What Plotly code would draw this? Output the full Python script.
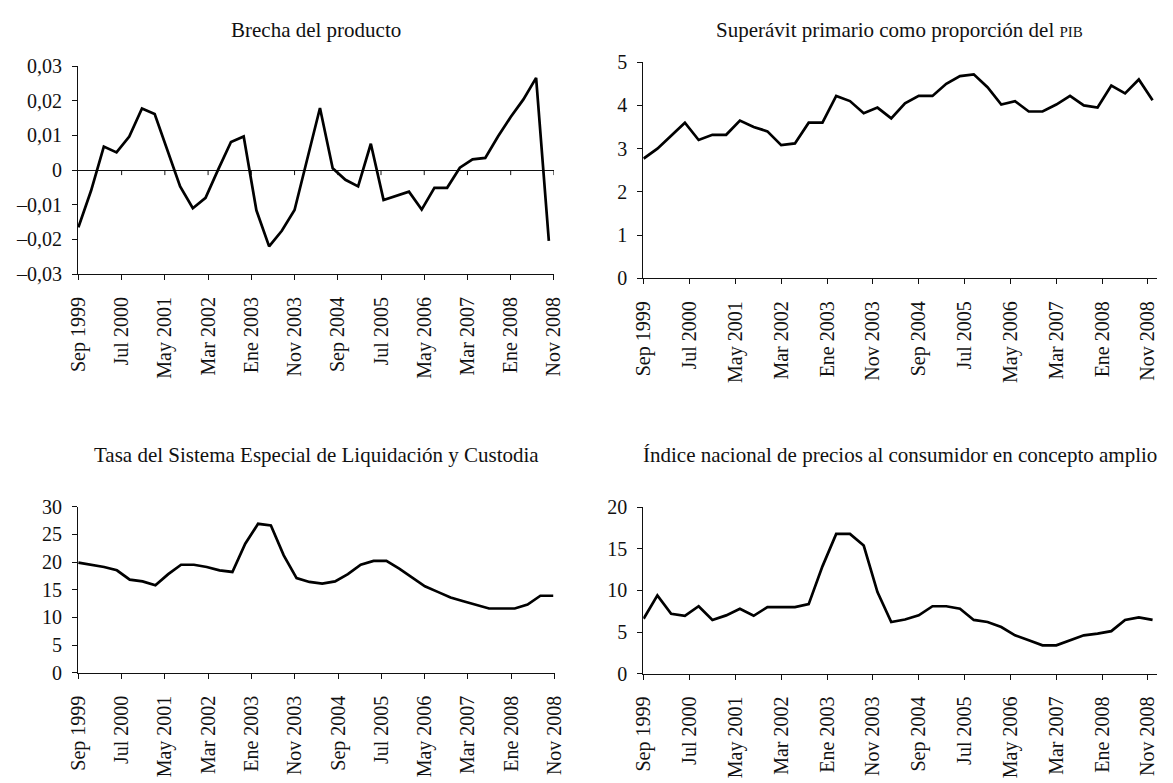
import plotly.graph_objects as go

# Quarterly observations, Sep 1999 - Dec 2008
meses = ["Mar", "Jun", "Sep", "Dic"]
trimestres = [f"{meses[(q + 2) % 4]} {1999 + (q + 2) // 4}" for q in range(38)]

brecha_producto = [
    -0.0165, -0.0059, 0.0068, 0.0051, 0.0097, 0.0178, 0.0162, 0.0058, -0.0047, -0.0110,
    -0.0080, 0.0002, 0.0081, 0.0097, -0.0116, -0.0220, -0.0175, -0.0115, 0.0030, 0.0179,
    0.0005, -0.0028, -0.0047, 0.0076, -0.0086, -0.0074, -0.0062, -0.0114, -0.0051, -0.0051,
    0.0007, 0.0031, 0.0035, 0.0097, 0.0153, 0.0204, 0.0266, -0.0204,
]
superavit_primario = [
    2.77, 3.00, 3.30, 3.60, 3.20, 3.32, 3.32, 3.65, 3.50, 3.40,
    3.08, 3.12, 3.60, 3.60, 4.22, 4.10, 3.82, 3.95, 3.70, 4.05,
    4.22, 4.22, 4.50, 4.68, 4.72, 4.42, 4.02, 4.10, 3.86, 3.86,
    4.02, 4.22, 4.00, 3.95, 4.46, 4.28, 4.60, 4.12,
]
tasa_selic = [
    19.9, 19.5, 19.1, 18.5, 16.8, 16.5, 15.8, 17.8, 19.5, 19.5,
    19.1, 18.5, 18.2, 23.3, 26.9, 26.6, 21.2, 17.1, 16.4, 16.1,
    16.5, 17.8, 19.5, 20.2, 20.2, 18.8, 17.2, 15.6, 14.6, 13.6,
    12.9, 12.3, 11.6, 11.6, 11.6, 12.3, 13.9, 13.9,
]
ipca = [
    6.6, 9.4, 7.2, 6.95, 8.1, 6.45, 7.0, 7.8, 6.95, 8.0,
    8.0, 8.0, 8.35, 12.9, 16.8, 16.8, 15.4, 9.8, 6.2, 6.5,
    7.0, 8.1, 8.1, 7.8, 6.45, 6.2, 5.6, 4.6, 4.0, 3.4,
    3.4, 4.0, 4.6, 4.8, 5.1, 6.45, 6.75, 6.45,
]

etiquetas_x = ["Sep 1999", "Jul 2000", "May 2001", "Mar 2002", "Ene 2003", "Nov 2003",
               "Sep 2004", "Jul 2005", "May 2006", "Mar 2007", "Ene 2008", "Nov 2008"]

titulos = [
    "Brecha del producto",
    "Superávit primario como proporción del <span style='font-size:15px'>PIB</span>",
    "Tasa del Sistema Especial de Liquidación y Custodia",
    "Índice nacional de precios al consumidor en concepto amplio",
]

ticks_brecha = [-0.03, -0.02, -0.01, 0, 0.01, 0.02, 0.03]
texto_brecha = ["\u20130,03", "\u20130,02", "\u20130,01", "0", "0,01", "0,02", "0,03"]
ticks_superavit = [0, 1, 2, 3, 4, 5]
ticks_selic = [0, 5, 10, 15, 20, 25, 30]
ticks_ipca = [0, 5, 10, 15, 20]

W, H = 1173, 783
FONT = "Liberation Serif"
FS = 20
FS_TITULO = 21
INK = "#111111"

# panel geometry in pixels: (left, right, top, bottom, x-range end, tick step)
paneles = [
    (68.3, 553.3, 56.7, 270.7, 37.4, 3.4),
    (644.3, 1167.6, 52.7, 275.0, 37.3, 10 / 3),
    (68.3, 553.9, 510.0, 680.8, 37.1, 3.373),
    (644.3, 1167.6, 510.7, 681.7, 37.3, 10 / 3),
]
series = [brecha_producto, superavit_primario, tasa_selic, ipca]
yrangos = [[-0.03, 0.03], [0, 5], [0, 30], [0, 20]]
yticks = [(ticks_brecha, texto_brecha), (ticks_superavit, None), (ticks_selic, None), (ticks_ipca, None)]

x_idx = list(range(len(trimestres)))

fig = go.Figure()
layout = dict(
    width=W, height=H,
    margin=dict(l=0, r=0, t=0, b=0),
    paper_bgcolor="white", plot_bgcolor="white",
    showlegend=False,
    separators=",.",
    font=dict(family=FONT, size=FS, color=INK),
)

annotations = []
shapes = []
for k, (l, r, t, b, xend, paso) in enumerate(paneles):
    n = k + 1
    xa = "xaxis" if n == 1 else f"xaxis{n}"
    ya = "yaxis" if n == 1 else f"yaxis{n}"
    xref = "x" if n == 1 else f"x{n}"
    yref = "y" if n == 1 else f"y{n}"
    tickvals = [paso * j for j in range(len(etiquetas_x))]
    layout[xa] = dict(
        domain=[l / W, r / W], anchor=yref, range=[-0.03, xend],
        showline=True, linecolor=INK, linewidth=1,
        ticks="outside", ticklen=5, tickwidth=1, tickcolor=INK,
        tickvals=tickvals, ticktext=etiquetas_x, tickangle=-90,
        ticklabelstandoff=9,
        tickfont=dict(family=FONT, size=FS, color=INK),
        showgrid=False, zeroline=False,
    )
    yv, yt = yticks[k]
    ydict = dict(
        domain=[1 - b / H, 1 - t / H], anchor=xref, range=yrangos[k],
        showline=True, linecolor=INK, linewidth=1,
        ticks="outside", ticklen=5, tickwidth=1, tickcolor=INK,
        tickvals=yv, ticklabelstandoff=6,
        tickfont=dict(family=FONT, size=FS, color=INK),
        showgrid=False, zeroline=False,
    )
    if yt is not None:
        ydict["ticktext"] = yt
    layout[ya] = ydict

    fig.add_trace(go.Scatter(
        x=x_idx, y=series[k], mode="lines", xaxis=xref, yaxis=yref,
        text=trimestres, hovertemplate="%{text}: %{y}<extra></extra>",
        line=dict(color="black", width=2.7),
    ))

    cy = 20 if k < 2 else 457
    annotations.append(dict(
        text=titulos[k], xref="paper", yref="paper",
        x=(l + r) / 2 / W, y=1 - cy / H, xanchor="center", yanchor="middle",
        showarrow=False, font=dict(family=FONT, size=FS_TITULO, color=INK),
    ))

# zero reference line of the output-gap panel, with downward tick marks
layout["yaxis"].update(zeroline=True, zerolinecolor=INK, zerolinewidth=1)
paso0 = paneles[0][5]
for j in range(1, len(etiquetas_x)):
    shapes.append(dict(
        type="line", xref="x", yref="y", ysizemode="pixel", yanchor=0,
        x0=paso0 * j, x1=paso0 * j, y0=0, y1=-5,
        line=dict(color=INK, width=1),
    ))

layout["annotations"] = annotations
layout["shapes"] = shapes
fig.update_layout(**layout)
fig.write_html("out.html")
